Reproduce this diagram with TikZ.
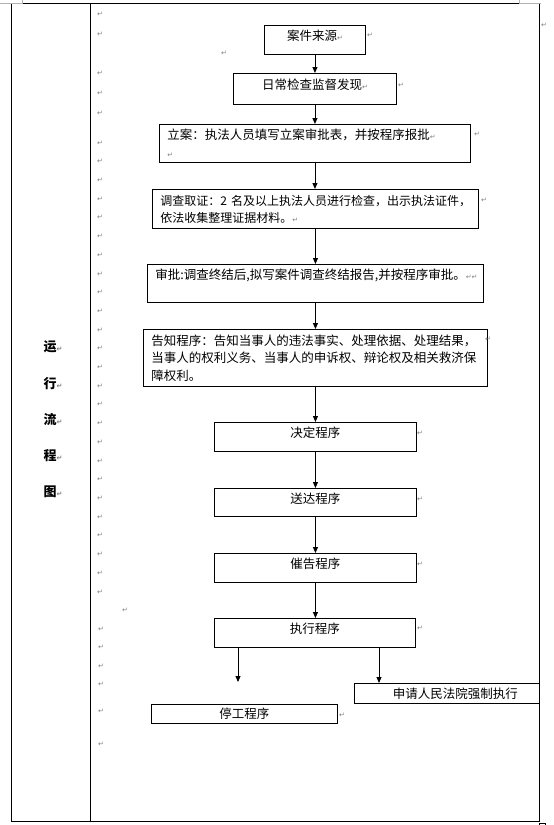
\documentclass[tikz,border=0pt]{standalone}
\usepackage{fontspec}
\setmainfont{Noto Sans CJK SC}
\newfontfamily\markfont{DejaVu Sans}
\usetikzlibrary{arrows.meta}

\newcommand{\parmark}{{\markfont\fontsize{7}{7}\selectfont\textcolor{gray}{↵}}}

\begin{document}
\begin{tikzpicture}[
  x=1pt, y=-1pt,
  every node/.style={font=\fontsize{12.5}{17.5}\selectfont, inner sep=0pt},
  box/.style={draw, line width=0.9pt, anchor=north west, inner xsep=6pt},
  tall/.style={text height=11pt, text depth=9pt},
  multi/.style={align=left, inner xsep=8pt},
  pmk/.style={font=\markfont\fontsize{7}{7}\selectfont, text=gray},
  colchar/.style={anchor=west, font=\fontsize{13}{13}\selectfont\bfseries},
  arr/.style={-{Triangle[length=6pt, width=5pt]}, line width=0.9pt}
]
\useasboundingbox (0,0) rectangle (554,825);

% Table frame
\draw[line width=1pt] (11.5,3.5) rectangle (539.5,821);
\draw[line width=1pt] (90,3.5) -- (90,821);
% Page corner marks
\draw[gray!60, line width=0.8pt] (0,3) -- (22,3) -- (22,0);
\draw[gray!60, line width=0.8pt] (519,0) -- (519,3) -- (541,3);
\draw[line width=0.8pt] (539,825) -- (539,823) -- (545,823) -- (545,825);

% Left column
\foreach \c [count=\i] in {运,行,流,程,图}
  \node[colchar] (col\i) at (43.5,{347+36.2*(\i-1)}) {\c\parmark};

% Boxes
\node[box, tall, minimum width=101pt, minimum height=29pt] (source) at (264,25) {案件来源\parmark};
\node[box, tall, minimum width=163pt, minimum height=31pt] (daily) at (233,73) {日常检查监督发现\parmark};
\node[box, multi, text width=295pt, minimum height=38pt] (filing) at (159,124)
  {立案：执法人员填写立案审批表，并按程序报批\parmark\\\parmark};
\node[box, multi, text width=310pt, minimum height=39pt, font=\fontsize{12}{17}\selectfont] (invest) at (152,189)
  {调查取证：2 名及以上执法人员进行检查，出示执法证件，\\依法收集整理证据材料。\parmark};
\node[box, multi, text width=320pt, minimum height=38pt] (approve) at (147,264)
  {审批:调查终结后,拟写案件调查终结报告,并按程序审批。\parmark\parmark\\\mbox{}};
\node[box, multi, text width=328pt, minimum height=57pt] (notify) at (143,329)
  {告知程序：告知当事人的违法事实、处理依据、处理结果，\\当事人的权利义务、当事人的申诉权、辩论权及相关救济保\\障权利。};
\node[box, tall, minimum width=202pt, minimum height=29pt] (decide) at (214,422) {决定程序};
\node[box, tall, minimum width=202pt, minimum height=28pt] (deliver) at (214,488) {送达程序};
\node[box, tall, minimum width=202pt, minimum height=29pt] (urge) at (214,553) {催告程序};
\node[box, tall, minimum width=201pt, minimum height=29pt] (exec) at (214,618) {执行程序};
\node[box, minimum width=185pt, minimum height=20pt] (court) at (354,683) {\hspace{17pt}申请人民法院强制执行};
\node[box, minimum width=186pt, minimum height=19pt] (stop) at (151,704) {停工程序};

% Main flow
\foreach \a/\b in {source/daily, daily/filing, filing/invest, invest/approve,
  approve/notify, notify/decide, decide/deliver, deliver/urge, urge/exec}
  \draw[arr] (\a.south) -- (\a.south |- \b.north);

% Branches
\coordinate (stopend) at (238,682);
\coordinate (courtin) at (379,683);
\draw[arr] (exec.south -| stopend) -- (stopend);
\draw[arr] (exec.south -| courtin) -- (court.north -| courtin);

% Paragraph marks
\foreach \y [count=\i] in {14,34,73,93,113}
  \node[pmk] (mt\i) at (100,\y) {↵};
\foreach \k in {0,...,24}
  \node[pmk] (mm\k) at (100,{143+18.7*\k}) {↵};
\foreach \y [count=\i] in {629,647,666,684,711,744}
  \node[pmk] (mb\i) at (101,\y) {↵};
\foreach \x/\y [count=\i] in {125/610, 224/53, 544/25, 370/35, 401/85, 477/134,
  484/200, 488/339, 420/433, 420/499, 420/564, 420/628, 342/715}
  \node[pmk] (mx\i) at (\x,\y) {↵};
\end{tikzpicture}
\end{document}
